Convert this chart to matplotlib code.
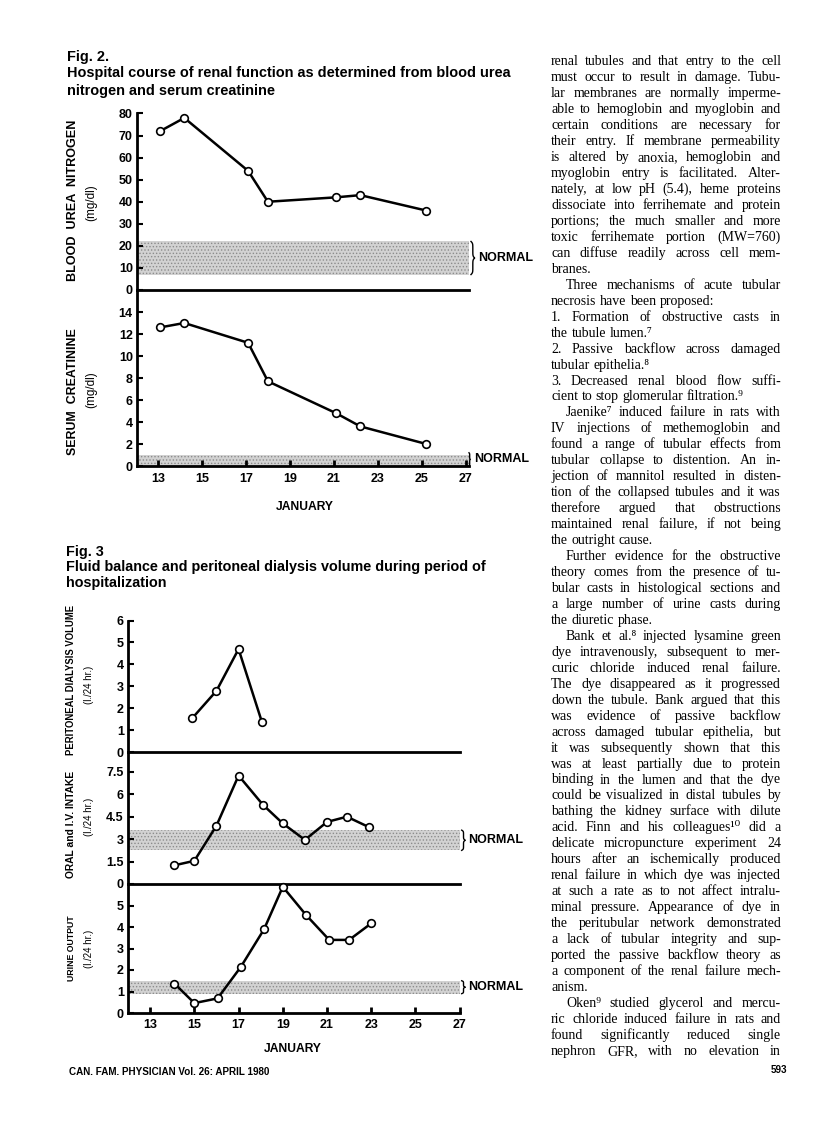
import numpy as np
import matplotlib
matplotlib.use('Agg')
import matplotlib.pyplot as plt
from matplotlib.transforms import blended_transform_factory

W, H = 816, 1124

# ---- Fig. 2 data (January day, value) ----
bun_days = [13.1, 14.2, 17.1, 18.0, 21.1, 22.2, 25.2]
bun_vals = [72, 78, 54, 40, 42, 43, 36]
creat_days = [13.1, 14.2, 17.1, 18.0, 21.1, 22.2, 25.2]
creat_vals = [12.6, 13.0, 11.2, 7.7, 4.8, 3.6, 2.0]
bun_normal = (7, 22)
creat_normal = (0, 1)
bun_ticks = [0, 10, 20, 30, 40, 50, 60, 70, 80]
creat_ticks = [0, 2, 4, 6, 8, 10, 12, 14]

# ---- Fig. 3 data ----
pd_days = [14.9, 16.0, 17.0, 18.05]
pd_vals = [1.55, 2.8, 4.7, 1.4]
intake_days = [14.1, 15.0, 16.0, 17.0, 18.1, 19.0, 20.0, 21.0, 21.9, 22.9]
intake_vals = [1.25, 1.55, 3.9, 7.25, 5.3, 4.05, 2.95, 4.15, 4.5, 3.8]
urine_days = [14.1, 15.0, 16.05, 17.1, 18.15, 19.0, 20.05, 21.1, 22.0, 23.0]
urine_vals = [1.37, 0.46, 0.68, 2.14, 3.89, 5.87, 4.56, 3.4, 3.4, 4.17]
intake_normal = (2.25, 3.6)
urine_normal = (0.9, 1.5)
pd_ticks = [0, 1, 2, 3, 4, 5, 6]
intake_ticks = [0, 1.5, 3, 4.5, 6, 7.5]
intake_labels = ['0', '1.5', '3', '4.5', '6', '7.5']
urine_ticks = [0, 1, 2, 3, 4, 5]
day_ticks = [13, 15, 17, 19, 21, 23, 25, 27]

# ---- right-hand text column ('i' indent, 'l' last line of paragraph) ----
body_lines = [
    ("renal tubules and that entry to the cell", ""),
    ("must occur to result in damage. Tubu-", ""),
    ("lar membranes are normally imperme-", ""),
    ("able to hemoglobin and myoglobin and", ""),
    ("certain conditions are necessary for", ""),
    ("their entry. If membrane permeability", ""),
    ("is altered by anoxia, hemoglobin and", ""),
    ("myoglobin entry is facilitated. Alter-", ""),
    ("nately, at low pH (5.4), heme proteins", ""),
    ("dissociate into ferrihemate and protein", ""),
    ("portions; the much smaller and more", ""),
    ("toxic ferrihemate portion (MW=760)", ""),
    ("can diffuse readily across cell mem-", ""),
    ("branes.", "l"),
    ("Three mechanisms of acute tubular", "i"),
    ("necrosis have been proposed:", "l"),
    ("1. Formation of obstructive casts in", ""),
    ("the tubule lumen.\u2077", "l"),
    ("2. Passive backflow across damaged", ""),
    ("tubular epithelia.\u2078", "l"),
    ("3. Decreased renal blood flow suffi-", ""),
    ("cient to stop glomerular filtration.\u2079", "l"),
    ("Jaenike\u2077 induced failure in rats with", "i"),
    ("IV injections of methemoglobin and", ""),
    ("found a range of tubular effects from", ""),
    ("tubular collapse to distention. An in-", ""),
    ("jection of mannitol resulted in disten-", ""),
    ("tion of the collapsed tubules and it was", ""),
    ("therefore argued that obstructions", ""),
    ("maintained renal failure, if not being", ""),
    ("the outright cause.", "l"),
    ("Further evidence for the obstructive", "i"),
    ("theory comes from the presence of tu-", ""),
    ("bular casts in histological sections and", ""),
    ("a large number of urine casts during", ""),
    ("the diuretic phase.", "l"),
    ("Bank et al.\u2078 injected lysamine green", "i"),
    ("dye intravenously, subsequent to mer-", ""),
    ("curic chloride induced renal failure.", ""),
    ("The dye disappeared as it progressed", ""),
    ("down the tubule. Bank argued that this", ""),
    ("was evidence of passive backflow", ""),
    ("across damaged tubular epithelia, but", ""),
    ("it was subsequently shown that this", ""),
    ("was at least partially due to protein", ""),
    ("binding in the lumen and that the dye", ""),
    ("could be visualized in distal tubules by", ""),
    ("bathing the kidney surface with dilute", ""),
    ("acid. Finn and his colleagues\u00b9\u2070 did a", ""),
    ("delicate micropuncture experiment 24", ""),
    ("hours after an ischemically produced", ""),
    ("renal failure in which dye was injected", ""),
    ("at such a rate as to not affect intralu-", ""),
    ("minal pressure. Appearance of dye in", ""),
    ("the peritubular network demonstrated", ""),
    ("a lack of tubular integrity and sup-", ""),
    ("ported the passive backflow theory as", ""),
    ("a component of the renal failure mech-", ""),
    ("anism.", "l"),
    ("Oken\u2079 studied glycerol and mercu-", "i"),
    ("ric chloride induced failure in rats and", ""),
    ("found significantly reduced single", ""),
    ("nephron GFR, with no elevation in", ""),
]

SANS = ['Liberation Sans', 'DejaVu Sans']
SERIF = ['Liberation Serif', 'DejaVu Serif']
plt.rcParams['font.family'] = SANS
plt.rcParams['hatch.linewidth'] = 0.6

fig = plt.figure(figsize=(W / 100, H / 100), dpi=100)
fig.patch.set_facecolor('white')
r = fig.canvas.get_renderer()


def fx(x):
    return x / W


def fy(y):
    return 1 - y / H


def text_px(x, y, s, **kw):
    return fig.text(fx(x), fy(y), s, **kw)


def fit(t, target, vertical=False):
    bb = t.get_window_extent(renderer=r)
    size = bb.height if vertical else bb.width
    t.set_fontsize(t.get_fontsize() * target / size)
    return t


def make_axes(left, top, right, bottom):
    ax = fig.add_axes([fx(left), fy(bottom), (right - left) / W, (bottom - top) / H])
    ax.set_facecolor('none')
    for s in ['top', 'right']:
        ax.spines[s].set_visible(False)
    for s in ['left', 'bottom']:
        ax.spines[s].set_linewidth(2)
    ax.tick_params(direction='in', length=4, width=1.5, pad=3)
    return ax


def series(ax, x, y):
    ax.plot(x, y, '-o', color='black', lw=1.8, ms=5.5, mfc='white', mec='black',
            mew=1.2, clip_on=False, zorder=5)


def band(ax, lo, hi):
    ax.axhspan(lo, hi, facecolor='#d2d2d2', hatch='.....', edgecolor='#8c8c8c',
               lw=0, zorder=1)


def brace_normal(ax, lo, hi, x0=1.006, w=0.011, tx=1.027, size=9):
    tr = blended_transform_factory(ax.transAxes, ax.transData)
    t = np.linspace(0, 0.5, 60)
    beta = 35
    half = 1 / (1 + np.exp(-beta * (t - t[0]))) + 1 / (1 + np.exp(-beta * (t - t[-1]))) - 0.5
    shape = np.concatenate([half, half[-2::-1]])
    ys = np.linspace(lo, hi, len(shape))
    ax.plot(x0 + w * shape, ys, color='black', lw=1, transform=tr, clip_on=False)
    ax.text(tx, (lo + hi) / 2, 'NORMAL', transform=tr, va='center', ha='left',
            fontsize=size, fontweight='bold')


def finish_y(ax, ticks, labels=None):
    ax.set_yticks(ticks)
    ax.set_yticklabels(labels if labels else [str(v) for v in ticks],
                       fontweight='bold', fontsize=9)


def bottom_x(ax, pad):
    ax.set_xticks(day_ticks)
    ax.set_xticklabels([str(d) for d in day_ticks], fontweight='bold', fontsize=9)
    ax.tick_params(axis='x', direction='in', length=4, width=2, pad=pad)


# ================= Fig. 2 =================
F2_L, F2_R = 137, 469
ax_bun = make_axes(F2_L, 113.5, F2_R, 290)
ax_bun.set_xlim(12.05, 27.14)
ax_bun.set_ylim(0, 80)
band(ax_bun, *bun_normal)
series(ax_bun, bun_days, bun_vals)
finish_y(ax_bun, bun_ticks)
ax_bun.set_xticks([])
brace_normal(ax_bun, *bun_normal)

ax_cr = make_axes(F2_L, 290, F2_R, 466)
ax_cr.set_xlim(12.05, 27.14)
ax_cr.set_ylim(0, 16)
band(ax_cr, *creat_normal)
series(ax_cr, creat_days, creat_vals)
finish_y(ax_cr, creat_ticks)
bottom_x(ax_cr, 5)
brace_normal(ax_cr, 0, 1.2, x0=1.0, w=0.004, tx=1.016)

# ================= Fig. 3 =================
F3_L, F3_R = 128, 459.7
ax_pd = make_axes(F3_L, 620.5, F3_R, 752.4)
ax_pd.set_xlim(12, 27)
ax_pd.set_ylim(0, 6)
series(ax_pd, pd_days, pd_vals)
finish_y(ax_pd, pd_ticks)
ax_pd.set_xticks([])

ax_in = make_axes(F3_L, 752.4, F3_R, 884)
ax_in.set_xlim(12, 27)
ax_in.set_ylim(0, 8.8)
band(ax_in, *intake_normal)
series(ax_in, intake_days, intake_vals)
finish_y(ax_in, intake_ticks, intake_labels)
ax_in.set_xticks([])
brace_normal(ax_in, *intake_normal, tx=1.025)

ax_ur = make_axes(F3_L, 884, F3_R, 1013)
ax_ur.set_xlim(12, 27)
ax_ur.set_ylim(0, 6)
band(ax_ur, *urine_normal)
series(ax_ur, urine_days, urine_vals)
finish_y(ax_ur, urine_ticks)
bottom_x(ax_ur, 4)
brace_normal(ax_ur, *urine_normal, tx=1.025)


# ---- axis labels ----
def vlabel(x, yc, s, length=None, weight='bold', size=8):
    t = text_px(x, yc, s, rotation=90, ha='center', va='center',
                fontweight=weight, fontsize=size)
    if length:
        fit(t, length, vertical=True)


vlabel(73, 200, 'BLOOD  UREA  NITROGEN', 162)
vlabel(91, 203, '(mg/dl)', weight='normal', size=8.5)
vlabel(73, 392, 'SERUM  CREATININE', 126)
vlabel(91, 390, '(mg/dl)', weight='normal', size=8.5)
vlabel(71, 680, 'PERITONEAL DIALYSIS VOLUME', 150)
vlabel(89, 685, '(l./24 hr.)', weight='normal', size=7)
vlabel(71, 824, 'ORAL and I.V. INTAKE', 108)
vlabel(89, 817, '(l./24 hr.)', weight='normal', size=7)
vlabel(71, 948, 'URINE OUTPUT', 66)
vlabel(89, 949, '(l./24 hr.)', weight='normal', size=7)

t = text_px(305, 507, 'JANUARY', ha='center', va='center', fontweight='bold', fontsize=8)
fit(t, 58)
t = text_px(293, 1049, 'JANUARY', ha='center', va='center', fontweight='bold', fontsize=8)
fit(t, 58)

# ---- figure titles ----
t2 = text_px(66.7, 73.3, 'Hospital course of renal function as determined from blood urea',
             fontweight='bold', fontsize=10, va='center')
fit(t2, 443)
ts = t2.get_fontsize()
text_px(66.7, 56.7, 'Fig. 2.', fontweight='bold', fontsize=ts, va='center')
text_px(66.7, 90.7, 'nitrogen and serum creatinine', fontweight='bold',
        fontsize=ts, va='center')

t3 = text_px(65.7, 566.7, 'Fluid balance and peritoneal dialysis volume during period of',
             fontweight='bold', fontsize=10, va='center')
fit(t3, 421)
ts = t3.get_fontsize()
text_px(65.7, 551.7, 'Fig. 3', fontweight='bold', fontsize=ts, va='center')
text_px(65.7, 583.3, 'hospitalization', fontweight='bold', fontsize=ts, va='center')

# ---- footer ----
tf = text_px(69.3, 1072, 'CAN. FAM. PHYSICIAN Vol. 26: APRIL 1980',
             fontweight='bold', fontsize=7, va='center')
fit(tf, 201)
text_px(787, 1070, '593', fontweight='bold', fontsize=tf.get_fontsize(),
        va='center', ha='right')

# ---- justified body text ----
col_x0, col_x1, indent = 551, 781, 15
base0, lead = 65.3, 15.96


def word_widths(words, size):
    out = []
    for w in words:
        t = fig.text(0, 0, w, family=SERIF, fontsize=size)
        out.append(t.get_window_extent(renderer=r).width)
        t.remove()
    return out


def space_width(size):
    a = fig.text(0, 0, 'x x', family=SERIF, fontsize=size)
    b = fig.text(0, 0, 'xx', family=SERIF, fontsize=size)
    sw = a.get_window_extent(renderer=r).width - b.get_window_extent(renderer=r).width
    a.remove()
    b.remove()
    return sw


probe = 10.0
sw0 = space_width(probe)
scale = 10.0
for line, flag in body_lines:
    words = line.split()
    nat = sum(word_widths(words, probe)) + sw0 * (len(words) - 1)
    avail = col_x1 - col_x0 - (indent if 'i' in flag else 0)
    scale = min(scale, probe * avail * 0.995 / nat)
body_size = scale
sw = space_width(body_size)

for i, (line, flag) in enumerate(body_lines):
    words = line.split()
    ws = word_widths(words, body_size)
    x = col_x0 + (indent if 'i' in flag else 0)
    if 'l' in flag or len(words) == 1:
        gap = sw
    else:
        gap = (col_x1 - x - sum(ws)) / (len(words) - 1)
    yb = base0 + i * lead
    for w, wd in zip(words, ws):
        text_px(x, yb, w, family=SERIF, fontsize=body_size, va='baseline')
        x += wd + gap

fig.savefig('out.png', dpi=100, facecolor='white')
